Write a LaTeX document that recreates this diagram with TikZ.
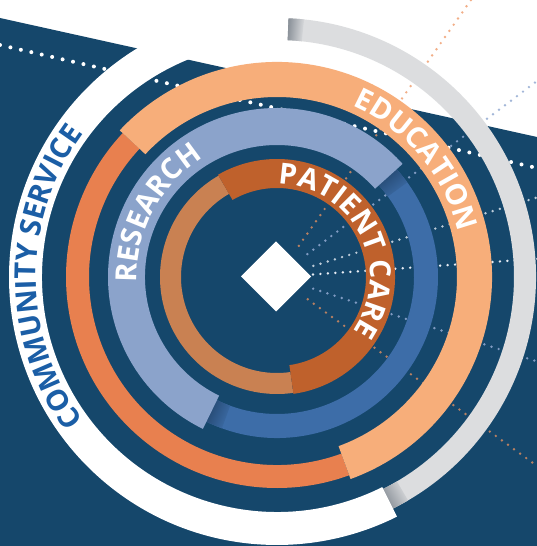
\documentclass[tikz,border=0pt]{standalone}
\usepackage{fontspec}
\newfontfamily\labelfont{Open Sans}
\usetikzlibrary{decorations.text}
\definecolor{navy}{HTML}{15476B}
\definecolor{ringgray}{HTML}{DCDDDF}
\definecolor{shadowgray}{HTML}{878E96}
\definecolor{peach}{HTML}{F7AE7A}
\definecolor{edorange}{HTML}{E8804F}
\definecolor{resblue}{HTML}{8BA3CB}
\definecolor{midblue}{HTML}{3D6DA8}
\definecolor{darkblue}{HTML}{24476F}
\definecolor{pctan}{HTML}{C98152}
\definecolor{pcorange}{HTML}{BF612C}
\definecolor{csblue}{HTML}{1B5EA6}
\definecolor{rayorange}{HTML}{EE9460}
\definecolor{rayblue}{HTML}{93AAD2}
\definecolor{raywhite}{HTML}{E6ECF4}
\newcommand\ringfont{\labelfont\bfseries\fontsize{29}{29}\selectfont}
% ring segment: style, r_in, r_out, start angle, end angle
\newcommand\ringseg[5]{%
  \path[#1] (#4:#3pt) arc[start angle=#4, end angle=#5, radius=#3pt]
    -- (#5:#2pt) arc[start angle=#5, end angle=#4, radius=#2pt] -- cycle;}
\tikzset{
  dotline/.style={white, line width=4pt, line cap=round, dash pattern=on 0pt off 10.7pt},
  raydots/.style={line width=2.7pt, line cap=round, dash pattern=on 0pt off 7.5pt},
  ringtext/.style={decorate, decoration={text along path, text align=center, text color=#1}},
}
\begin{document}
\begin{tikzpicture}
\path[use as bounding box] (0pt,0pt) rectangle (537pt,546pt);
\clip (0pt,0pt) rectangle (537pt,546pt);
\fill[white] (0pt,0pt) rectangle (537pt,546pt);
% navy background
\fill[navy] (0pt,528pt) -- (537pt,409pt) -- (537pt,0pt) -- (0pt,0pt) -- cycle;
% long dotted line
\draw[dotline] (0pt,501pt) -- (537pt,378pt);
\begin{scope}[shift={(277pt,269pt)}]
  % rays
  \draw[raydots, rayorange, draw opacity=0.75] (55:38pt) -- (55:420pt);
  \draw[raydots, rayblue, draw opacity=0.85] (37:38pt) -- (37:420pt);
  \draw[raydots, raywhite, draw opacity=0.8] (17:38pt) -- (17:420pt);
  \draw[raydots, raywhite] (4:36pt) -- (4:420pt);
  \draw[raydots, rayblue, draw opacity=0.85] (-18:38pt) -- (-18:420pt);
  \draw[raydots, rayorange, draw opacity=0.75] (-36:38pt) -- (-36:420pt);
  % outer ring: community service (white) and gray
  \ringseg{fill=ringgray}{237}{259}{-63.4}{87.5}
  \ringseg{top color=shadowgray, bottom color=ringgray, shading angle=84.5}{237}{259}{84}{87.5}
  \ringseg{top color=shadowgray, bottom color=ringgray, shading angle=118.4}{237}{259}{-63.4}{-59.6}
  % soft shadow under the white ring end
  \foreach \k/\o in {0/0.22,1/0.18,2/0.14,3/0.10,4/0.06}{
    \draw[shadowgray, opacity=\o, line width=1.8pt]
      (87.5:{234.5-1.7*\k}) arc[start angle=87.5, end angle={112-4*\k}, radius={234.5-1.7*\k}];
  }
  \ringseg{fill=white}{235}{268}{87.5}{296.6}
  % education ring
  \ringseg{fill=edorange}{188}{211}{137}{290}
  \ringseg{fill=peach}{180}{215}{-70}{137}
  % research ring
  \ringseg{fill=midblue}{137}{161}{-116}{42}
  \ringseg{top color=darkblue, bottom color=midblue, shading angle=39}{137}{161}{36}{42}
  \ringseg{top color=darkblue, bottom color=midblue, shading angle=67}{137}{161}{244}{250}
  \ringseg{fill=resblue}{132}{169}{42}{244}
  % patient care ring
  \ringseg{fill=pctan}{96}{117}{120}{278}
  \ringseg{fill=pcorange}{89}{118}{-82}{120}
  % labels along the rings
  \path[ringtext=csblue, decoration={text={|\ringfont|COMMUNITY SERVICE}}]
    (245:241pt) arc[start angle=245, end angle=115, radius=241pt];
  \path[ringtext=white, decoration={text={|\ringfont|EDUCATION}}]
    (100:187pt) arc[start angle=100, end angle=-20, radius=187pt];
  \path[ringtext=white, decoration={text={|\ringfont|RESEARCH}}]
    (222:140pt) arc[start angle=222, end angle=82, radius=140pt];
  \path[ringtext=white, decoration={text={|\ringfont|PATIENT CARE}}]
    (117:93pt) arc[start angle=117, end angle=-63, radius=93pt];
  % centre diamond
  \fill[white] (-36pt,0.5pt) -- (-1pt,35.5pt) -- (34pt,0.5pt) -- (-1pt,-34.5pt) -- cycle;
\end{scope}
\end{tikzpicture}
\end{document}
